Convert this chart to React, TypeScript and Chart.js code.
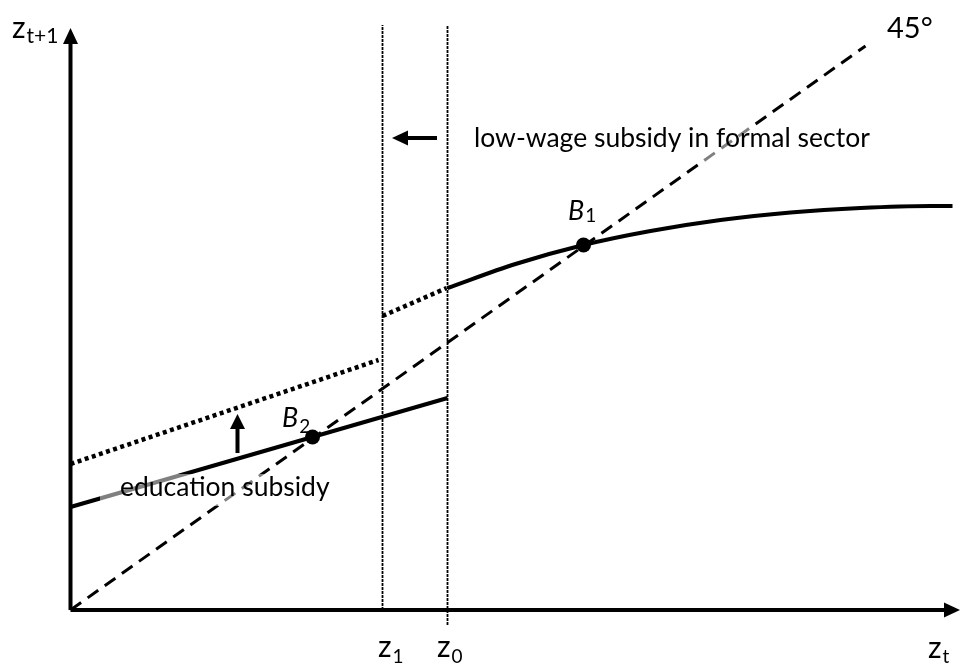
import React, { useEffect, useRef } from 'react';
import { Chart, registerables } from 'chart.js';

Chart.register(...registerables);

// ---- data (chart units: x = z_t, y = z_{t+1}) ----
const diagonal = [{ x: 0, y: 0 }, { x: 795, y: 564 }];
const lowerBranch = [{ x: 0, y: 103 }, { x: 377, y: 212 }];
const upperBranch = [
  { x: 377, y: 322 }, { x: 445, y: 346 }, { x: 513, y: 365 }, { x: 580, y: 379 },
  { x: 650, y: 390 }, { x: 720, y: 397.5 }, { x: 790, y: 402 }, { x: 860, y: 404 }, { x: 882, y: 404 },
];
const educationShift = [{ x: 0, y: 146 }, { x: 308, y: 250 }];
const wageShift = [{ x: 312, y: 294 }, { x: 376, y: 322 }];
const z1Line = [{ x: 312, y: 0 }, { x: 312, y: 585 }];
const z0Line = [{ x: 377, y: -15 }, { x: 377, y: 585 }];
const yAxisLine = [{ x: 0, y: 0 }, { x: 0, y: 567 }];
const xAxisLine = [{ x: 0, y: 0 }, { x: 874.5, y: 0 }];
const leftArrow = [{ x: 366.5, y: 472 }, { x: 336.5, y: 472 }];
const upArrow = [{ x: 167, y: 157 }, { x: 167, y: 182 }];
const equilibria = [{ x: 513, y: 365 }, { x: 242, y: 173 }];

const FONT = 'Lato, "Open Sans", sans-serif';

type Label = { text: string; sub?: string; x: number; y: number; size: number; subSize?: number; subDy?: number; italic?: boolean; box?: [number, number, number, number] };
const labels: Label[] = [
  { text: 'z', sub: 't+1', x: -58.5, y: 572, size: 30, subSize: 21, subDy: 5 },
  { text: 'z', sub: '1', x: 307.5, y: -47, size: 30, subSize: 19, subDy: 6 },
  { text: 'z', sub: '0', x: 366.5, y: -47, size: 30, subSize: 19, subDy: 6 },
  { text: 'z', sub: 't', x: 857.5, y: -48, size: 30, subSize: 19, subDy: 5 },
  { text: '45°', x: 816.5, y: 572, size: 29 },
  { text: 'B', sub: '1', x: 497.5, y: 390, size: 27, subSize: 19, subDy: 2, italic: true },
  { text: 'B', sub: '2', x: 211.5, y: 183, size: 27, subSize: 19, subDy: 6, italic: true },
  { text: 'low-wage subsidy in formal sector', x: 403.5, y: 463, size: 26.5, box: [394.5, 484, 812, 448] },
  { text: 'education subsidy', x: 49.5, y: 114, size: 26.5, box: [29.5, 136, 266, 104] },
];

const arrowPlugin = {
  id: 'arrowHeads',
  afterDatasetsDraw(chart: any) {
    const ctx = chart.ctx;
    chart.data.datasets.forEach((ds: any, i: number) => {
      if (!ds.arrowHead) return;
      const pts = chart.getDatasetMeta(i).data;
      const a = pts[pts.length - 2], b = pts[pts.length - 1];
      const dx = b.x - a.x, dy = b.y - a.y;
      const len = Math.hypot(dx, dy);
      const ux = dx / len, uy = dy / len;
      const { length, width } = ds.arrowHead;
      const bx = b.x - ux, by = b.y - uy;
      ctx.save();
      ctx.fillStyle = ds.borderColor;
      ctx.beginPath();
      ctx.moveTo(b.x + ux * length, b.y + uy * length);
      ctx.lineTo(bx - uy * width / 2, by + ux * width / 2);
      ctx.lineTo(bx + uy * width / 2, by - ux * width / 2);
      ctx.closePath();
      ctx.fill();
      ctx.restore();
    });
  },
};

const labelPlugin = {
  id: 'labels',
  afterDraw(chart: any) {
    const ctx = chart.ctx;
    const xs = chart.scales.x, ys = chart.scales.y;
    labels.forEach((l) => {
      ctx.save();
      if (l.box) {
        const [x0, y0, x1, y1] = l.box;
        const px0 = xs.getPixelForValue(x0), py0 = ys.getPixelForValue(y0);
        const px1 = xs.getPixelForValue(x1), py1 = ys.getPixelForValue(y1);
        ctx.fillStyle = 'rgba(255,255,255,0.5)';
        ctx.fillRect(px0, py0, px1 - px0, py1 - py0);
      }
      const px = xs.getPixelForValue(l.x), py = ys.getPixelForValue(l.y);
      ctx.fillStyle = '#000';
      ctx.textBaseline = 'alphabetic';
      ctx.textAlign = 'left';
      ctx.font = `${l.italic ? 'italic ' : ''}${l.size}px ${FONT}`;
      ctx.fillText(l.text, px, py);
      if (l.sub) {
        const w = ctx.measureText(l.text).width;
        ctx.font = `${l.subSize}px ${FONT}`;
        ctx.fillText(l.sub, px + w + 1, py + (l.subDy || 0));
      }
      ctx.restore();
    });
  },
};

const line = (data: any[], extra: any = {}) => ({
  data,
  showLine: true,
  pointRadius: 0,
  borderColor: '#000',
  backgroundColor: '#000',
  borderWidth: 4,
  fill: false,
  clip: false,
  ...extra,
});

export default function App() {
  const ref = useRef<HTMLCanvasElement>(null);
  useEffect(() => {
    if (!ref.current) return;
    const chart = new Chart(ref.current, {
      type: 'scatter',
      data: {
        datasets: [
          { data: equilibria, pointRadius: 7.5, pointBackgroundColor: '#000', pointBorderWidth: 0, showLine: false, clip: false } as any,
          line(yAxisLine, { borderWidth: 4, arrowHead: { length: 15, width: 15 } }),
          line(xAxisLine, { borderWidth: 4, arrowHead: { length: 15, width: 15 } }),
          line(leftArrow, { borderWidth: 4, arrowHead: { length: 15, width: 15 } }),
          line(upArrow, { borderWidth: 4, arrowHead: { length: 14, width: 15 } }),
          line(upperBranch, { cubicInterpolationMode: 'monotone', borderWidth: 4 }),
          line(lowerBranch, { borderWidth: 4 }),
          line(educationShift, { borderWidth: 4.5, borderDash: [4, 3.5] }),
          line(wageShift, { borderWidth: 4.5, borderDash: [4, 3.5] }),
          line(diagonal, { borderWidth: 3, borderDash: [13, 8] }),
          line(z1Line, { borderWidth: 1.8, borderColor: '#000', borderDash: [3, 1] }),
          line(z0Line, { borderWidth: 1.8, borderColor: '#000', borderDash: [3, 1] }),
        ],
      },
      options: {
        responsive: false,
        animation: false,
        events: [],
        layout: { padding: 0, autoPadding: false },
        plugins: { legend: { display: false }, tooltip: { enabled: false } },
        scales: {
          x: { type: 'linear', display: false, min: -70.5, max: 889.5 },
          y: { type: 'linear', display: false, min: -55, max: 610 },
        },
      },
      plugins: [arrowPlugin, labelPlugin],
    } as any);
    return () => chart.destroy();
  }, []);
  return (
    <div style={{ position: 'fixed', left: 0, top: 0, width: 960, height: 665, background: '#fff' }}>
      <canvas ref={ref} width={960} height={665} />
    </div>
  );
}
